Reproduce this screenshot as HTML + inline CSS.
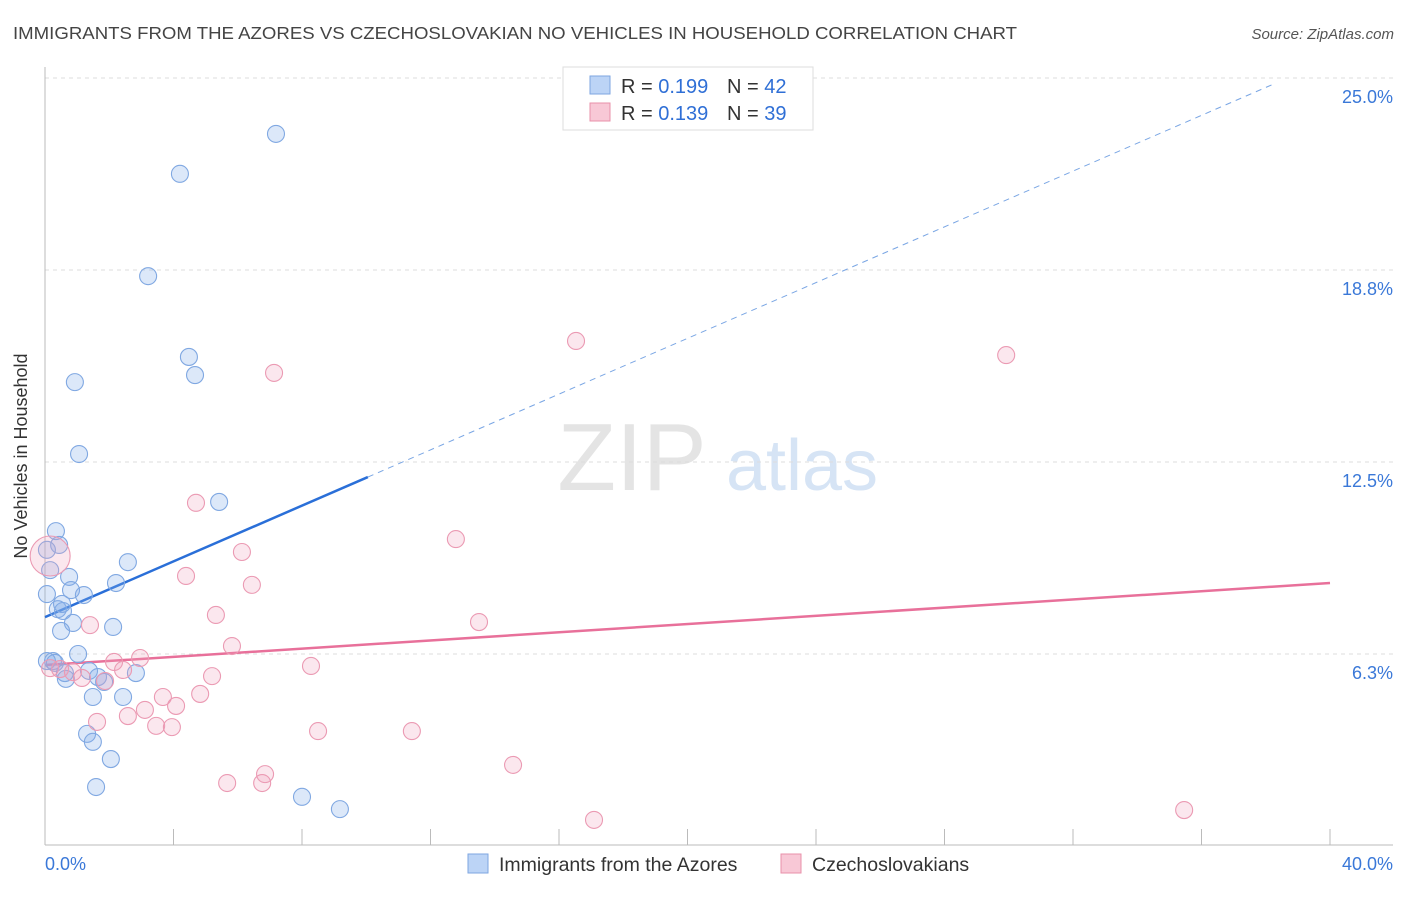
<!DOCTYPE html>
<html><head><meta charset="utf-8"><style>
body{margin:0;background:#fff;font-family:"Liberation Sans",sans-serif}
svg text{font-family:"Liberation Sans",sans-serif}
</style></head><body>
<svg id="chart" width="1406" height="892" xmlns="http://www.w3.org/2000/svg">
<text x="13" y="39" font-size="17.5" fill="#444" textLength="1004" lengthAdjust="spacingAndGlyphs">IMMIGRANTS FROM THE AZORES VS CZECHOSLOVAKIAN NO VEHICLES IN HOUSEHOLD CORRELATION CHART</text>
<text x="1394" y="39" font-size="15" fill="#555" font-style="italic" text-anchor="end">Source: ZipAtlas.com</text>
<g>
<text x="632" y="490" font-size="96" fill="#e4e4e4" font-family="Liberation Serif" text-anchor="middle">ZIP</text>
<text x="802" y="490" font-size="72" fill="#d6e4f5" text-anchor="middle">atlas</text>
</g>
<g id="grid"></g><g id="axes"></g><g id="trend"></g><g id="points"></g>
<text x="27" y="456" font-size="18" fill="#333" text-anchor="middle" transform="rotate(-90 27 456)">No Vehicles in Household</text>
<g>
<rect x="563" y="67" width="250" height="63" fill="#fff" stroke="#ddd"/>
<rect x="590" y="76" width="20" height="18" fill="#bcd4f6" stroke="#7ea6e0"/>
<text x="621" y="93" font-size="20" fill="#333">R = <tspan fill="#2f6fd6">0.199</tspan></text>
<text x="727" y="93" font-size="20" fill="#333">N = <tspan fill="#2f6fd6">42</tspan></text>
<rect x="590" y="103" width="20" height="18" fill="#f8c8d6" stroke="#e890aa"/>
<text x="621" y="120" font-size="20" fill="#333">R = <tspan fill="#2f6fd6">0.139</tspan></text>
<text x="727" y="120" font-size="20" fill="#333">N = <tspan fill="#2f6fd6">39</tspan></text>
</g>
<g>
<rect x="468" y="854" width="20" height="19" fill="#bcd4f6" stroke="#7ea6e0"/>
<text x="499" y="871" font-size="19.5" fill="#333">Immigrants from the Azores</text>
<rect x="781" y="854" width="20" height="19" fill="#f8c8d6" stroke="#e890aa"/>
<text x="812" y="871" font-size="19.5" fill="#333">Czechoslovakians</text>
</g>
</svg>
<script>
const yTicks=[6.25,12.5,18.75,25];
const yTickLabels=["6.3%","12.5%","18.8%","25.0%"];
const xTickVals=[0,4,8,12,16,20,24,28,32,36,40];
const xEndLabels=["0.0%","40.0%"];
const blueX=[7.19,4.20,3.21,4.48,4.67,0.93,1.06,5.42,0.34,0.44,0.06,0.16,2.58,0.75,0.81,1.21,2.21,0.06,0.40,0.56,0.87,0.50,2.12,1.03,0.25,1.37,0.65,1.65,1.84,2.83,1.49,2.43,1.31,1.49,2.05,1.59,8.00,9.18,0.06,0.31,0.62,0.53];
const blueY=[23.18,21.88,18.55,15.92,15.33,15.10,12.76,11.20,10.25,9.80,9.64,8.98,9.24,8.76,8.33,8.17,8.56,8.20,7.71,7.65,7.26,7.00,7.13,6.25,6.02,5.70,5.44,5.50,5.34,5.63,4.85,4.85,3.65,3.39,2.83,1.92,1.60,1.20,6.02,5.96,5.63,7.88];
const pinkX=[16.53,29.92,7.13,4.70,12.79,6.13,4.39,6.44,5.32,13.51,1.40,5.82,2.96,2.15,8.28,2.43,0.16,0.47,0.87,1.15,1.87,5.20,4.83,3.67,4.08,3.11,2.58,3.46,3.95,1.62,8.50,11.42,14.57,6.85,6.76,5.67,17.09,35.46,0.16];
const pinkY=[16.44,15.98,15.40,11.17,9.99,9.57,8.79,8.50,7.52,7.29,7.19,6.51,6.12,5.99,5.86,5.73,5.79,5.76,5.66,5.47,5.37,5.53,4.95,4.85,4.56,4.43,4.23,3.91,3.87,4.04,3.74,3.74,2.64,2.34,2.05,2.05,0.85,1.17,9.44];
const pinkBig=[38];
const blueTrend=[7.45,12.01,10.05,38.3];
const pinkTrend=[5.89,8.56];
const NS="http://www.w3.org/2000/svg";
const X=v=>45+v/40*1285, Y=v=>846-v*30.72;
function mk(t,a,p){const e=document.createElementNS(NS,t);for(const k in a)e.setAttribute(k,a[k]);document.getElementById(p).appendChild(e);return e;}
yTicks.forEach((v,i)=>{
 const l=mk('line',{x1:45,x2:1393,y1:Y(v),y2:Y(v),stroke:'#ddd','stroke-dasharray':'4 4'},'grid');
 
 
 const t=mk('text',{x:1393,y:Y(v)+25,'font-size':18,fill:'#3a78d8','text-anchor':'end'},'axes');
 t.textContent=yTickLabels[i];
 
 
});
const ax=mk('line',{x1:45,x2:45,y1:67,y2:845,stroke:'#bbb'},'axes');


const bx=mk('line',{x1:45,x2:1393,y1:845,y2:845,stroke:'#bbb'},'axes');


xTickVals.forEach(v=>{
 const l=mk('line',{x1:X(v),x2:X(v),y1:829,y2:845,stroke:'#bbb'},'axes');
 
 
});
[[0,'start',45],[40,'end',1393]].forEach((d,i)=>{
 const t=mk('text',{x:d[2],y:870,'font-size':18,fill:'#3a78d8','text-anchor':d[1]},'axes');
 t.textContent=xEndLabels[i];
 
 
});
const slope=(blueTrend[1]-blueTrend[0])/blueTrend[2];
const b1=mk('line',{x1:X(0),y1:Y(blueTrend[0]),x2:X(blueTrend[2]),y2:Y(blueTrend[1]),stroke:'#2a6fd8','stroke-width':2.5},'trend');


const b2=mk('line',{x1:X(blueTrend[2]),y1:Y(blueTrend[1]),x2:X(blueTrend[3]),y2:Y(blueTrend[0]+slope*blueTrend[3]),stroke:'#7aa6e4','stroke-width':1,'stroke-dasharray':'6 5'},'trend');


const p1=mk('line',{x1:X(0),y1:Y(pinkTrend[0]),x2:X(40),y2:Y(pinkTrend[1]),stroke:'#e8709a','stroke-width':2.5},'trend');


blueX.forEach((v,i)=>{
 const c=mk('circle',{cx:X(v),cy:Y(blueY[i]),r:8.5,fill:'rgba(130,172,232,0.28)',stroke:'#80a8e2','stroke-width':1.1},'points');
 
 
});
pinkX.forEach((v,i)=>{
 const c=mk('circle',{cx:X(v),cy:Y(pinkY[i]),r:pinkBig.includes(i)?20:8.5,fill:'rgba(240,160,188,0.25)',stroke:'#eb9ab3','stroke-width':1.1},'points');
 
 
});
</script>
</body></html>
